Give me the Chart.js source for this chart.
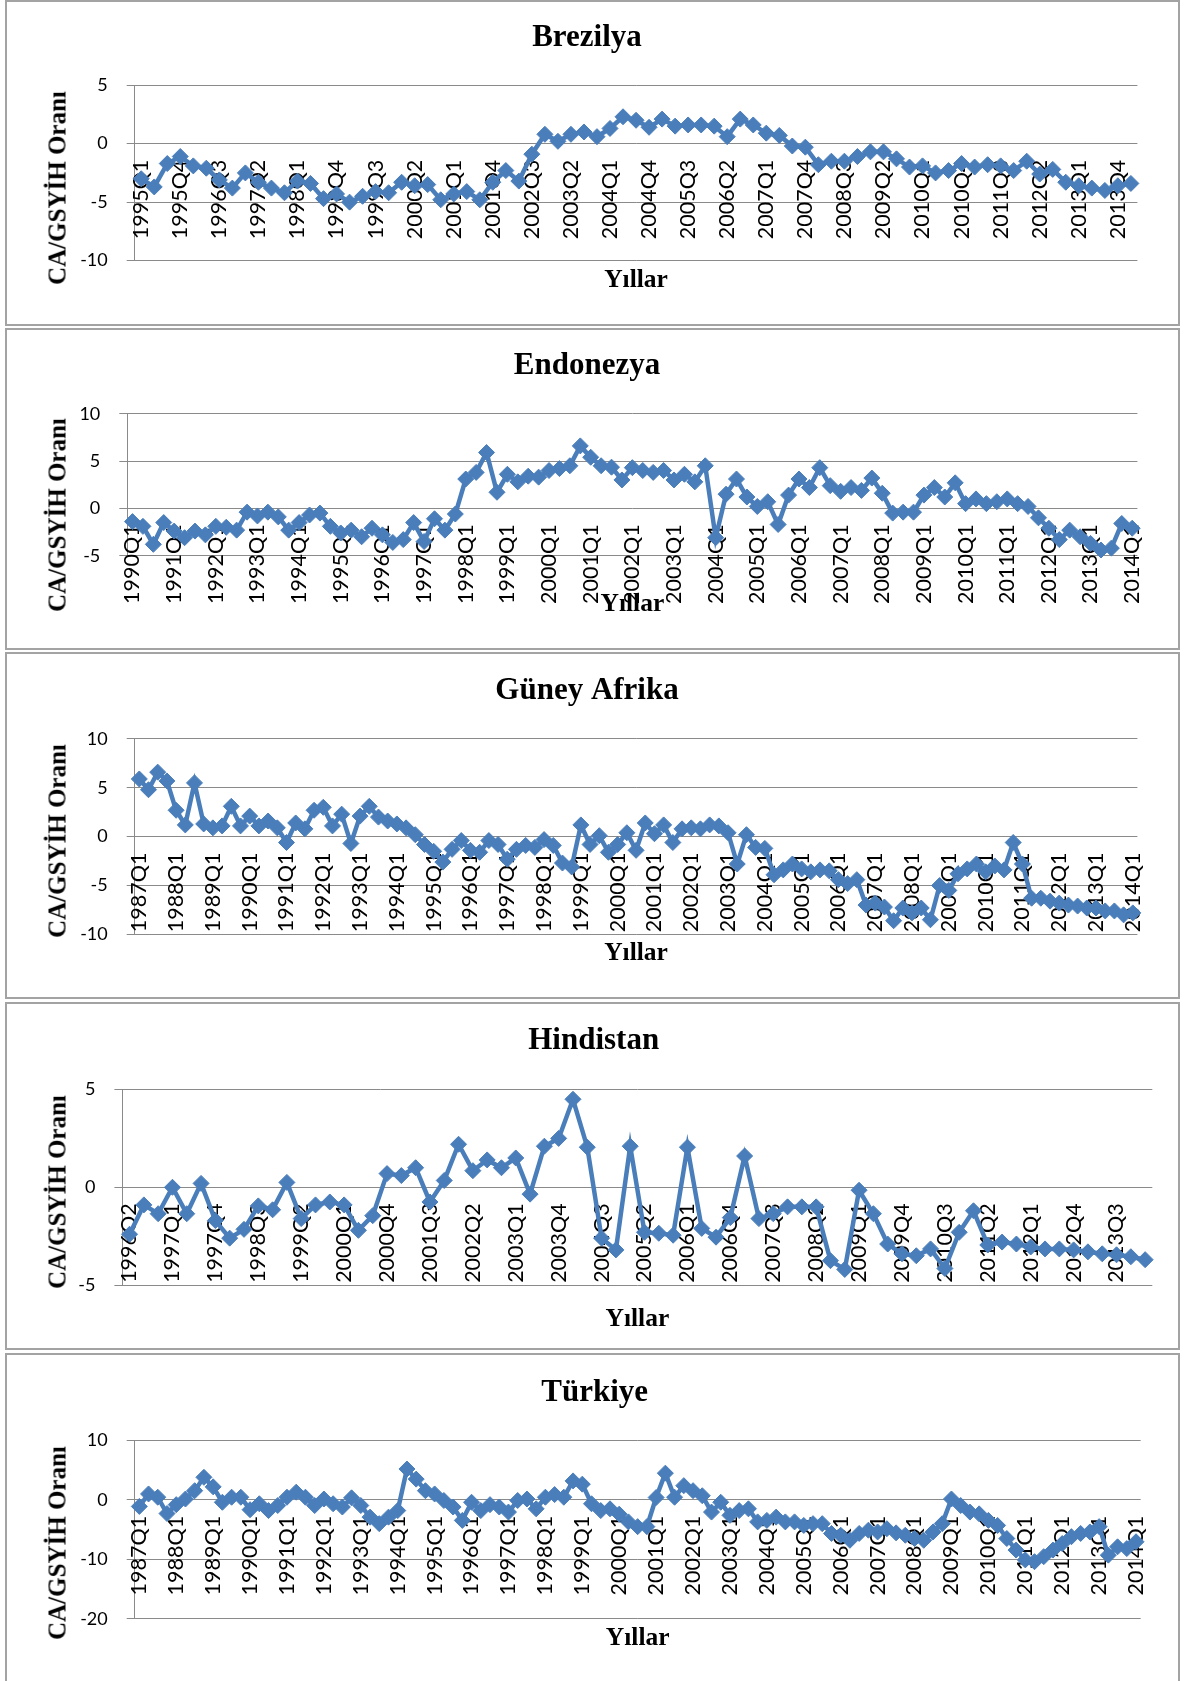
<!DOCTYPE html>
<html>
<head>
    <meta charset="utf-8">
    <title>CA/GSYİH Oranı</title>
    <style>
        html, body {
            margin: 0;
            padding: 0;
            background: #ffffff;
        }
        body {
            width: 1184px;
            height: 1681px;
            position: relative;
            overflow: hidden;
        }
        .panel {
            position: absolute;
            left: 5px;
            width: 1171px;
            border: 2px solid #a3a3a3;
            background: #ffffff;
        }
        .panel canvas {
            display: block;
        }
        .ytitle {
            position: absolute;
            left: 50px;
            transform: translate(-50%, -50%) rotate(-90deg);
            font: bold 25px 'Liberation Serif', 'Times New Roman', serif;
            line-height: 1;
            white-space: nowrap;
            color: #000;
        }
    </style>
    <script src="https://cdn.jsdelivr.net/npm/chart.js"></script>
    <script>
        // quarterly CA / GDP ratios
        const brezilyaValues = [
            -3.0, -3.7, -1.7, -1.1, -1.9, -2.1, -3.1, -3.8, -2.5, -3.3, -3.8, -4.2, -3.2, -3.4, -4.7, -4.3,
            -5.0, -4.5, -4.1, -4.2, -3.3, -3.6, -3.5, -4.8, -4.3, -4.1, -4.8, -3.3, -2.3, -3.2, -0.9, 0.8,
            0.2, 0.8, 1.0, 0.6, 1.3, 2.3, 2.0, 1.4, 2.1, 1.5, 1.6, 1.6, 1.5, 0.6, 2.1, 1.6,
            0.9, 0.7, -0.2, -0.3, -1.8, -1.5, -1.5, -1.1, -0.7, -0.7, -1.3, -2.0, -1.9, -2.5, -2.3, -1.7,
            -2.0, -1.8, -1.9, -2.3, -1.5, -2.6, -2.2, -3.3, -3.6, -3.8, -4.0, -3.6, -3.4
        ];
        const endonezyaValues = [
            -1.4, -1.9, -3.8, -1.5, -2.4, -3.1, -2.4, -2.8, -1.9, -2.0, -2.3, -0.4, -0.8, -0.4, -0.9, -2.3,
            -1.5, -0.7, -0.5, -1.9, -2.6, -2.3, -3.0, -2.1, -2.8, -3.6, -3.3, -1.5, -3.5, -1.1, -2.3, -0.6,
            3.1, 3.8, 5.9, 1.7, 3.6, 2.8, 3.4, 3.3, 4.0, 4.2, 4.5, 6.6, 5.4, 4.5, 4.35, 3.0,
            4.3, 4.0, 3.8, 4.0, 3.0, 3.6, 2.8, 4.5, -3.1, 1.5, 3.1, 1.2, 0.2, 0.7, -1.7, 1.4,
            3.1, 2.2, 4.3, 2.4, 1.8, 2.2, 1.9, 3.2, 1.6, -0.5, -0.4, -0.4, 1.4, 2.2, 1.2, 2.7,
            0.5, 1.0, 0.5, 0.7, 1.0, 0.5, 0.2, -1.0, -2.1, -3.3, -2.3, -3.0, -3.7, -4.4, -4.2, -1.6,
            -2.1
        ];
        const guneyAfrikaValues = [
            5.9, 4.8, 6.6, 5.7, 2.7, 1.2, 5.5, 1.3, 0.9, 1.1, 3.1, 1.1, 2.1, 1.1, 1.6, 0.9,
            -0.6, 1.4, 0.8, 2.7, 3.0, 1.1, 2.3, -0.7, 2.1, 3.1, 2.0, 1.6, 1.3, 0.9, 0.2, -0.8,
            -1.5, -2.6, -1.3, -0.4, -1.4, -1.6, -0.4, -0.8, -2.3, -1.3, -0.9, -1.1, -0.3, -0.9, -2.7, -3.1,
            1.2, -0.8, 0.1, -1.6, -0.8, 0.4, -1.4, 1.4, 0.3, 1.2, -0.6, 0.8, 0.9, 0.8, 1.2, 1.1,
            0.4, -2.8, 0.2, -1.1, -1.2, -3.9, -3.4, -2.8, -3.3, -3.6, -3.4, -3.5, -4.4, -4.8, -4.4, -7.0,
            -6.8, -7.2, -8.6, -7.3, -7.8, -7.3, -8.5, -5.0, -5.5, -3.8, -3.3, -2.8, -3.6, -3.0, -3.4, -0.6,
            -2.8, -6.3, -6.3, -6.6, -6.8, -7.0, -7.1, -7.3, -7.3, -7.6, -7.6, -8.0, -7.8
        ];
        const hindistanValues = [
            -2.4, -0.9, -1.35, 0.0, -1.35, 0.2, -1.7, -2.6, -2.15, -0.95, -1.15, 0.25, -1.6, -0.9, -0.75, -0.9,
            -2.2, -1.45, 0.7, 0.6, 1.0, -0.75, 0.35, 2.2, 0.85, 1.4, 1.0, 1.5, -0.35, 2.1, 2.5, 4.5,
            2.05, -2.6, -3.2, 2.1, -2.3, -2.35, -2.45, 2.05, -2.1, -2.55, -1.55, 1.6, -1.6, -1.35, -1.0, -1.0,
            -1.0, -3.75, -4.2, -0.15, -1.35, -2.9, -3.4, -3.5, -3.15, -4.15, -2.3, -1.2, -2.95, -2.8, -2.9, -3.05,
            -3.15, -3.15, -3.2, -3.3, -3.4, -3.45, -3.55, -3.7
        ];
        const turkiyeValues = [
            -1.1, 1.0, 0.45, -2.3, -0.8, 0.15, 1.55, 3.8, 2.2, -0.4, 0.45, 0.45, -1.65, -0.65, -1.8, -0.95,
            0.45, 1.3, 0.45, -0.95, 0.15, -0.65, -1.2, 0.35, -0.95, -2.9, -4.0, -2.9, -1.8, 5.2, 3.5, 1.55,
            1.0, -0.1, -1.2, -3.45, -0.4, -1.8, -0.8, -1.2, -2.05, -0.1, 0.15, -1.5, 0.45, 0.9, 0.45, 3.2,
            2.65, -0.65, -1.8, -1.5, -2.4, -3.7, -4.5, -4.5, 0.4, 4.5, 0.45, 2.4, 1.55, 0.7, -2.05, -0.4,
            -2.6, -1.8, -1.5, -3.7, -3.45, -2.9, -3.7, -3.7, -4.3, -4.0, -4.0, -5.65, -5.95, -6.8, -5.65, -5.1,
            -5.4, -4.85, -5.55, -5.95, -6.5, -6.8, -5.4, -4.0, 0.15, -0.95, -2.05, -2.35, -3.45, -4.3, -6.5, -8.45,
            -10.1, -10.4, -9.55, -8.45, -7.35, -6.2, -5.65, -5.4, -4.5, -9.3, -7.9, -8.2, -7.05
        ];

        // y axis tick labels of each panel
        const brezilyaYTicks = [5, 0, -5, -10];
        const endonezyaYTicks = [10, 5, 0, -5];
        const guneyAfrikaYTicks = [10, 5, 0, -5, -10];
        const hindistanYTicks = [5, 0, -5];
        const turkiyeYTicks = [10, 0, -10, -20];

        // category labels like 1995Q1, 1995Q2, ...
        function quarterLabels(year, quarter, count) {
            const labels = [];
            for (let i = 0; i < count; i++) {
                labels.push(year + 'Q' + quarter);
                quarter++;
                if (quarter > 4) {
                    quarter = 1;
                    year++;
                }
            }
            return labels;
        }

        const brezilyaQuarters = quarterLabels(1995, 1, brezilyaValues.length);
        const endonezyaQuarters = quarterLabels(1990, 1, endonezyaValues.length);
        const guneyAfrikaQuarters = quarterLabels(1987, 1, guneyAfrikaValues.length);
        const hindistanQuarters = quarterLabels(1996, 2, hindistanValues.length);
        const turkiyeQuarters = quarterLabels(1987, 1, turkiyeValues.length);

        const BLUE = '#4A7EBB';
        const GRID = '#8a8a8a';
        const SERIF = "'Liberation Serif', 'Times New Roman', serif";
        const SANS = "Lato, 'Open Sans', sans-serif";

        // padLeft/padRight only shift the centred title; yWidth + padLeft = plot left edge
        const panels = [
            { title: 'Brezilya', values: brezilyaValues, labels: brezilyaQuarters, yTicks: brezilyaYTicks, every: 3,
              top: 0, h: 322, padLeft: 0, padRight: 11, yWidth: 127.7, rightGap: 29.6,
              titleTop: 17, titleBottom: 29, subTop: 4.8, subBottom: 28, yTitleY: 185.5 },
            { title: 'Endonezya', values: endonezyaValues, labels: endonezyaQuarters, yTicks: endonezyaYTicks, every: 4,
              top: 328, h: 318, padLeft: 0, padRight: 11, yWidth: 120.3, rightGap: 29.6,
              titleTop: 17.5, titleBottom: 29, subTop: 33.4, subBottom: 28.3, yTitleY: 185 },
            { title: 'Güney Afrika', values: guneyAfrikaValues, labels: guneyAfrikaQuarters, yTicks: guneyAfrikaYTicks, every: 4,
              top: 652, h: 343, padLeft: 0, padRight: 11, yWidth: 127.7, rightGap: 29.6,
              titleTop: 18, titleBottom: 29.7, subTop: 4, subBottom: 28, yTitleY: 187 },
            { title: 'Hindistan', values: hindistanValues, labels: hindistanQuarters, yTicks: hindistanYTicks, every: 3,
              top: 1002, h: 344, padLeft: 2.4, padRight: 0, yWidth: 113, rightGap: 25.7,
              titleTop: 18.8, titleBottom: 29.5, subTop: 19.3, subBottom: 13, yTitleY: 188 },
            { title: 'Türkiye', values: turkiyeValues, labels: turkiyeQuarters, yTicks: turkiyeYTicks, every: 4,
              top: 1353, h: 336, padLeft: 4.4, padRight: 0, yWidth: 123.3, rightGap: 25.7,
              titleTop: 19.5, titleBottom: 28.8, subTop: 4.4, subBottom: 37.3, yTitleY: 187.5 }
        ];

        function drawPanel(p) {
            const panel = document.createElement('div');
            panel.className = 'panel';
            panel.style.top = p.top + 'px';
            panel.style.height = p.h + 'px';

            const canvas = document.createElement('canvas');
            canvas.width = 1171;
            canvas.height = p.h;
            canvas.style.width = '1171px';
            canvas.style.height = p.h + 'px';
            panel.appendChild(canvas);

            const yTitle = document.createElement('div');
            yTitle.className = 'ytitle';
            yTitle.style.top = p.yTitleY + 'px';
            yTitle.textContent = 'CA/GSYİH Oranı';
            panel.appendChild(yTitle);

            document.body.appendChild(panel);

            const yMin = Math.min(...p.yTicks);
            const yMax = Math.max(...p.yTicks);
            const yStep = Math.abs(p.yTicks[0] - p.yTicks[1]);

            new Chart(canvas, {
                type: 'line',
                data: {
                    labels: p.labels,
                    datasets: [{
                        data: p.values,
                        yAxisID: 'y',
                        borderColor: BLUE,
                        backgroundColor: BLUE,
                        borderWidth: 4.5,
                        tension: 0,
                        pointStyle: 'rectRot',
                        pointRadius: 8,
                        pointBorderWidth: 1,
                        pointBackgroundColor: BLUE,
                        pointBorderColor: BLUE,
                        clip: false
                    }]
                },
                options: {
                    responsive: false,
                    animation: false,
                    devicePixelRatio: 1,
                    layout: {
                        padding: { left: p.padLeft, right: p.padRight, top: 0, bottom: 0 }
                    },
                    plugins: {
                        legend: { display: false },
                        tooltip: { enabled: false },
                        title: {
                            display: true,
                            text: p.title,
                            color: '#000',
                            font: { family: SERIF, size: 31, weight: 'bold', lineHeight: 1.2 },
                            padding: { top: p.titleTop, bottom: p.titleBottom }
                        },
                        subtitle: {
                            display: true,
                            position: 'bottom',
                            fullSize: false,
                            text: 'Yıllar',
                            color: '#000',
                            font: { family: SERIF, size: 25.5, weight: 'bold', lineHeight: 1.2 },
                            padding: { top: p.subTop, bottom: p.subBottom }
                        }
                    },
                    scales: {
                        y: {
                            position: 'left',
                            min: yMin,
                            max: yMax,
                            afterFit: function(scale) {
                                scale.width = p.yWidth;
                            },
                            ticks: {
                                stepSize: yStep,
                                padding: 19,
                                color: '#000',
                                font: { family: SANS, size: 18 }
                            },
                            grid: { color: GRID, lineWidth: 1, tickLength: 8 },
                            border: { display: true, color: GRID, width: 1 }
                        },
                        // empty spacer on the right so the plot ends where the original does
                        spacer: {
                            type: 'linear',
                            position: 'right',
                            grid: { display: false, drawTicks: false },
                            border: { display: false },
                            ticks: { display: false },
                            afterFit: function(scale) {
                                scale.width = p.rightGap;
                            }
                        },
                        x: {
                            type: 'category',
                            position: { y: 0 },
                            offset: true,
                            grid: { display: false, drawTicks: false },
                            border: { display: false },
                            ticks: {
                                autoSkip: false,
                                minRotation: 90,
                                maxRotation: 90,
                                padding: 16,
                                color: '#000',
                                font: { family: SANS, size: 21.5 },
                                callback: function(value, index) {
                                    return index % p.every === 0 ? this.getLabelForValue(value) : null;
                                }
                            }
                        }
                    }
                }
            });
        }

        document.addEventListener('DOMContentLoaded', function() {
            panels.forEach(drawPanel);
        });
    </script>
</head>
<body>
</body>
</html>
